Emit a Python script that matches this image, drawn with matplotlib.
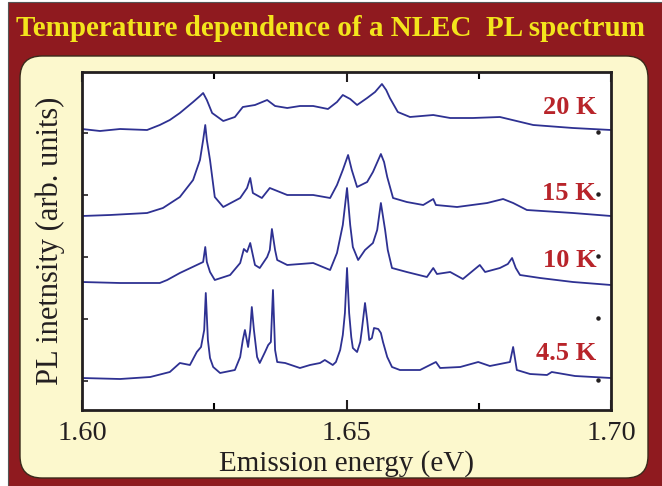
import matplotlib
matplotlib.use('Agg')
import matplotlib.pyplot as plt
import matplotlib.ticker as ticker
from matplotlib.patches import FancyBboxPatch, Rectangle

plt.rcParams['font.family'] = ['Liberation Serif', 'DejaVu Serif']

# PL spectra, stacked (energy in eV, intensity with vertical offset, arb. units)
e_20K = [1.6000, 1.6034, 1.6072, 1.6123, 1.6147, 1.6166, 1.6185, 1.6210, 1.6223, 1.6229,
         1.6236, 1.6246, 1.6267, 1.6289, 1.6304, 1.6327, 1.6350, 1.6365, 1.6388, 1.6412,
         1.6437, 1.6465, 1.6482, 1.6493, 1.6507, 1.6520, 1.6539, 1.6554, 1.6567, 1.6575,
         1.6582, 1.6597, 1.6620, 1.6664, 1.6696, 1.6739, 1.6790, 1.6853, 1.6928, 1.7000]
i_20K = [281, 279, 281, 280, 285, 290, 297, 308, 314, 317,
         310, 297, 289, 293, 303, 305, 310, 304, 302, 304,
         304, 301, 308, 315, 311, 305, 312, 318, 326, 320,
         312, 298, 293, 295, 292, 292, 293, 285, 282, 280]

e_15K = [1.6000, 1.6053, 1.6123, 1.6153, 1.6185, 1.6210, 1.6223, 1.6229, 1.6233, 1.6236,
         1.6242, 1.6251, 1.6267, 1.6299, 1.6312, 1.6318, 1.6323, 1.6340, 1.6355, 1.6388,
         1.6437, 1.6469, 1.6482, 1.6493, 1.6503, 1.6510, 1.6520, 1.6539, 1.6550, 1.6560,
         1.6565, 1.6571, 1.6577, 1.6588, 1.6614, 1.6645, 1.6664, 1.6669, 1.6709, 1.6766,
         1.6796, 1.6815, 1.6841, 1.6928, 1.7000]
i_15K = [194, 195, 197, 202, 213, 230, 250, 270, 285, 270,
         250, 213, 203, 212, 222, 232, 217, 212, 222, 215,
         215, 212, 225, 240, 255, 240, 223, 228, 238, 250,
         256, 248, 233, 212, 208, 205, 211, 205, 203, 207,
         211, 207, 200, 197, 194]

e_10K = [1.6000, 1.6072, 1.6147, 1.6161, 1.6185, 1.6217, 1.6229, 1.6233, 1.6236, 1.6242,
         1.6251, 1.6280, 1.6299, 1.6306, 1.6312, 1.6318, 1.6327, 1.6336, 1.6350, 1.6355,
         1.6359, 1.6365, 1.6369, 1.6388, 1.6437, 1.6469, 1.6482, 1.6493, 1.6501, 1.6507,
         1.6512, 1.6522, 1.6535, 1.6550, 1.6558, 1.6565, 1.6573, 1.6578, 1.6586, 1.6614,
         1.6652, 1.6664, 1.6671, 1.6696, 1.6720, 1.6752, 1.6762, 1.6790, 1.6805, 1.6813,
         1.6820, 1.6828, 1.6866, 1.6928, 1.7000]
i_10K = [128, 127, 127, 130, 137, 145, 148, 163, 148, 138,
         130, 135, 147, 161, 158, 167, 145, 142, 153, 160,
         181, 160, 150, 145, 147, 140, 157, 185, 222, 185,
         163, 150, 160, 167, 180, 207, 180, 160, 142, 138,
         133, 142, 136, 138, 131, 145, 138, 142, 146, 152,
         142, 135, 132, 128, 125]

e_4K = [1.6000, 1.6072, 1.6129, 1.6166, 1.6185, 1.6204, 1.6217, 1.6225, 1.6231, 1.6234,
        1.6238, 1.6242, 1.6248, 1.6261, 1.6289, 1.6299, 1.6304, 1.6308, 1.6314, 1.6318,
        1.6321, 1.6325, 1.6331, 1.6336, 1.6346, 1.6352, 1.6357, 1.6361, 1.6365, 1.6369,
        1.6384, 1.6412, 1.6431, 1.6450, 1.6459, 1.6474, 1.6480, 1.6488, 1.6493, 1.6497,
        1.6501, 1.6505, 1.6509, 1.6512, 1.6520, 1.6526, 1.6529, 1.6535, 1.6539, 1.6543,
        1.6548, 1.6552, 1.6560, 1.6565, 1.6569, 1.6577, 1.6586, 1.6601, 1.6639, 1.6669,
        1.6677, 1.6715, 1.6749, 1.6771, 1.6809, 1.6815, 1.6822, 1.6847, 1.6879, 1.6888,
        1.6932, 1.7000]
i_4K = [32, 31, 33, 38, 47, 45, 58, 63, 80, 117,
        70, 52, 43, 37, 40, 53, 70, 80, 63, 80,
        103, 80, 53, 47, 58, 65, 68, 120, 60, 48,
        47, 42, 45, 47, 50, 45, 48, 60, 75, 97,
        142, 97, 73, 62, 58, 68, 80, 107, 90, 70,
        72, 82, 81, 77, 68, 53, 43, 40, 40, 48,
        42, 43, 48, 44, 48, 63, 40, 36, 35, 38,
        34, 32]

spectra = [(e_20K, i_20K), (e_15K, i_15K), (e_10K, i_10K), (e_4K, i_4K)]
temp_labels = ['20 K', '15 K', '10 K', '4.5 K']
label_y = [303, 217, 150, 57]
ytick_pos = [29, 91, 153, 215, 277]

dark_red = '#8f1a1f'
panel_yellow = '#fcf8cd'
trace_blue = '#2e3192'
label_red = '#b8242a'
ink = '#231f20'

fig = plt.figure(figsize=(6.62, 4.86), dpi=100)
fig.patch.set_facecolor('white')

# red frame and the rounded cream panel (inches)
bg = Rectangle((0.08, 0.0), 6.54, 4.84, transform=fig.dpi_scale_trans,
               facecolor=dark_red, edgecolor='#555555', linewidth=0.8, zorder=-10)
fig.patches.append(bg)
panel = FancyBboxPatch((0.20, 0.08), 6.28, 4.22,
                       boxstyle='round,pad=0,rounding_size=0.22',
                       transform=fig.dpi_scale_trans,
                       facecolor=panel_yellow, edgecolor='#3a2a1a', linewidth=1.0, zorder=-9)
fig.patches.append(panel)

fig.text(0.5, 1 - 29 / 486, 'Temperature dependence of a NLEC  PL spectrum',
         ha='center', va='center', color='#f3e51c', fontsize=21, fontweight='bold')

ax = fig.add_axes([82 / 662, 1 - 410 / 486, 529 / 662, 338 / 486])
ax.set_facecolor('white')

for e, i in spectra:
    ax.plot(e, i, color=trace_blue, linewidth=1.3)

for lab, yl in zip(temp_labels, label_y):
    ax.text(1.6972, yl, lab, ha='right', va='center', color=label_red,
            fontsize=19, fontweight='bold')

# small dots along the right edge
ax.plot([1.6975] * len(ytick_pos), [p + 1 for p in ytick_pos], linestyle='none',
        marker='o', markersize=2.2, color=ink)

ax.set_xlim(1.60, 1.70)
ax.set_ylim(0, 338)
ax.xaxis.set_major_locator(ticker.MultipleLocator(0.05))
ax.xaxis.set_minor_locator(ticker.MultipleLocator(0.025))
ax.xaxis.set_major_formatter(ticker.FormatStrFormatter('%.2f'))
ax.set_yticks(ytick_pos)
ax.set_yticklabels([])
ax.tick_params(axis='x', which='major', direction='in', length=7, width=1.5,
               labelsize=20.5, pad=8, colors=ink, top=True)
ax.tick_params(axis='x', which='minor', direction='in', length=5, width=1.5, top=True)
ax.tick_params(axis='y', direction='in', length=4, width=1.2, colors=ink)
for s in ax.spines.values():
    s.set_linewidth(2)
    s.set_color(ink)

ax.set_xlabel('Emission energy (eV)', fontsize=21, color=ink, labelpad=3)
ax.set_ylabel('PL inetnsity (arb. units)', fontsize=22, color=ink, labelpad=9)

fig.savefig('out.png', dpi=100)
